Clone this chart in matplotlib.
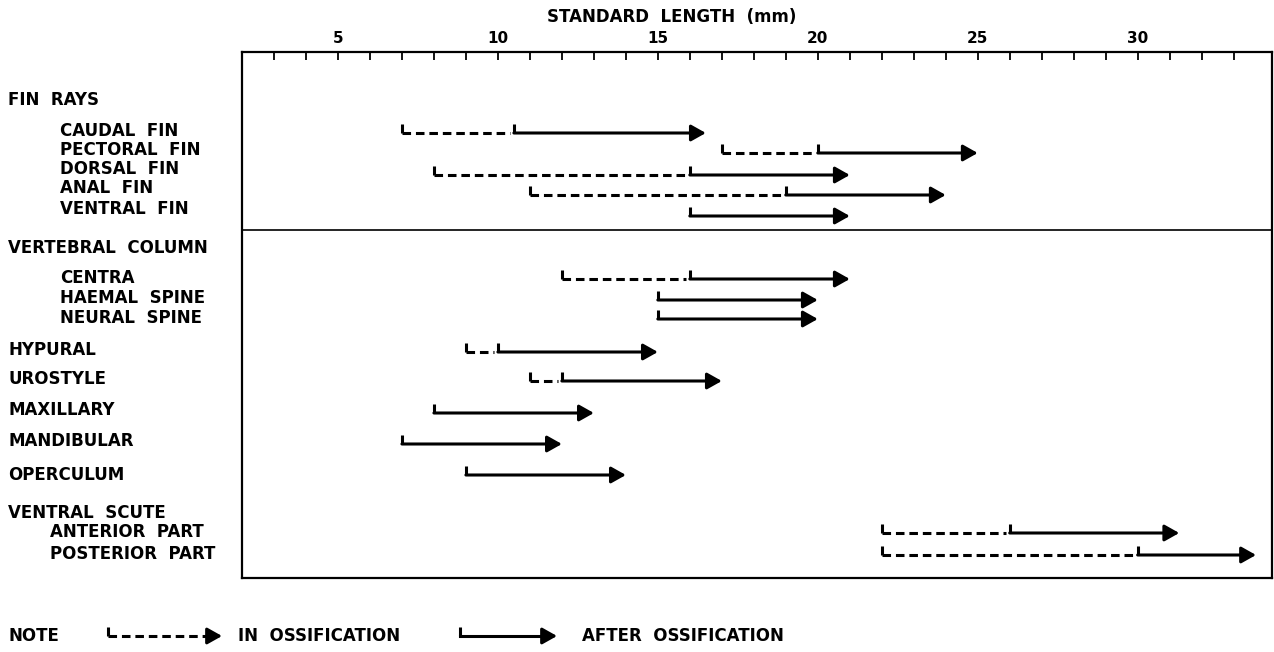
import numpy as np
import matplotlib.pyplot as plt

# dane: poczatek kostnienia (linia przerywana), poczatek stanu "po kostnieniu", koniec strzalki [mm]
etykiety = ['CAUDAL  FIN', 'PECTORAL  FIN', 'DORSAL  FIN', 'ANAL  FIN', 'VENTRAL  FIN',
            'CENTRA', 'HAEMAL  SPINE', 'NEURAL  SPINE',
            'HYPURAL', 'UROSTYLE', 'MAXILLARY', 'MANDIBULAR', 'OPERCULUM',
            'ANTERIOR  PART', 'POSTERIOR  PART']
w_trakcie = [7, 17, 8, 11, None, 12, None, None, 9, 11, None, None, None, 22, 22]
po_kostnieniu = [10.5, 20, 16, 19, 16, 16, 15, 15, 10, 12, 8, 7, 9, 26, 30]
koniec = [16.5, 25, 21, 24, 21, 21, 20, 20, 15, 17, 13, 12, 14, 31.3, 33.7]

naglowki = ['FIN  RAYS', 'VERTEBRAL  COLUMN', 'VENTRAL  SCUTE']
pojedyncze = ['HYPURAL', 'UROSTYLE', 'MAXILLARY', 'MANDIBULAR', 'OPERCULUM']

# uklad: piksele od gory rysunku
W, H = 1274, 652
y_strzalek = [133, 153, 175, 195, 216, 279, 300, 319, 352, 381, 413, 444, 475, 533, 555]
y_tekstu = [131, 150, 169, 188, 209, 278, 298, 318, 350, 379, 410, 441, 475, 532, 554]
x_tekstu = [60] * 13 + [50, 50]
y_naglowkow = [100, 248, 513]
y_linii = 230


def fy(py):
    return 1 - py / H


fig = plt.figure(figsize=(W / 100, H / 100), dpi=100)
ax = fig.add_axes([242 / W, fy(578), (1272 - 242) / W, (578 - 52) / H])
ax.set_xlim(2, 34.2)
ax.set_ylim(578, 52)

font = dict(family='DejaVu Sans', fontweight='bold', fontsize=12)
lw = 2.2
kreska = 9
glowka = dict(arrowstyle='-|>,head_length=0.8,head_width=0.45', color='black', lw=lw,
              shrinkA=0, shrinkB=0, mutation_scale=11)
przerywana = (0, (2.8, 1.6))

for i in range(len(etykiety)):
    y = y_strzalek[i]
    s = po_kostnieniu[i]
    if w_trakcie[i] is not None:
        d = w_trakcie[i]
        ax.plot([d, d], [y - kreska, y], color='black', lw=lw, solid_capstyle='butt')
        ax.plot([d, s - 0.12], [y, y], color='black', lw=lw, linestyle=przerywana,
                dash_capstyle='butt')
    ax.plot([s, s], [y - kreska, y], color='black', lw=lw, solid_capstyle='butt')
    ax.annotate('', xy=(koniec[i], y), xytext=(s, y), arrowprops=glowka)

ax.axhline(y_linii, color='black', lw=1.2)

# etykiety po lewej
for i, lab in enumerate(etykiety):
    x = 8 if lab in pojedyncze else x_tekstu[i]
    fig.text(x / W, fy(y_tekstu[i]), lab, va='center', ha='left', **font)
for lab, yy in zip(naglowki, y_naglowkow):
    fig.text(8 / W, fy(yy), lab, va='center', ha='left', **font)

# os gorna
ax.xaxis.tick_top()
ax.set_xticks(np.arange(3, 34))
ax.set_xticklabels([str(v) if v % 5 == 0 else '' for v in range(3, 34)], fontweight='bold')
ax.tick_params(axis='x', direction='in', length=6, width=1.3, pad=4, labelsize=11)
ax.set_yticks([])
for sp in ax.spines.values():
    sp.set_linewidth(1.6)
fig.text(672 / W, fy(17), 'STANDARD  LENGTH  (mm)', ha='center', va='center', **font)

# legenda na dole
yl = 636
fig.text(8 / W, fy(yl), 'NOTE', va='center', ha='left', **font)


def wzor(x0, x1, linia):
    fig.lines.append(plt.Line2D([x0 / W, x0 / W], [fy(yl), fy(yl - kreska)],
                                transform=fig.transFigure, color='black', lw=lw,
                                solid_capstyle='butt'))
    fig.lines.append(plt.Line2D([x0 / W, (x1 - 8) / W], [fy(yl), fy(yl)],
                                transform=fig.transFigure, color='black', lw=lw,
                                linestyle=linia, dash_capstyle='butt'))
    ax.annotate('', xy=(x1 / W, fy(yl)), xytext=((x1 - 10) / W, fy(yl)),
                xycoords='figure fraction', textcoords='figure fraction',
                arrowprops=glowka, annotation_clip=False)


wzor(108, 222, przerywana)
fig.text(238 / W, fy(yl), 'IN  OSSIFICATION', va='center', ha='left', **font)
wzor(460, 557, '-')
fig.text(582 / W, fy(yl), 'AFTER  OSSIFICATION', va='center', ha='left', **font)

fig.savefig('out.png', dpi=100)
